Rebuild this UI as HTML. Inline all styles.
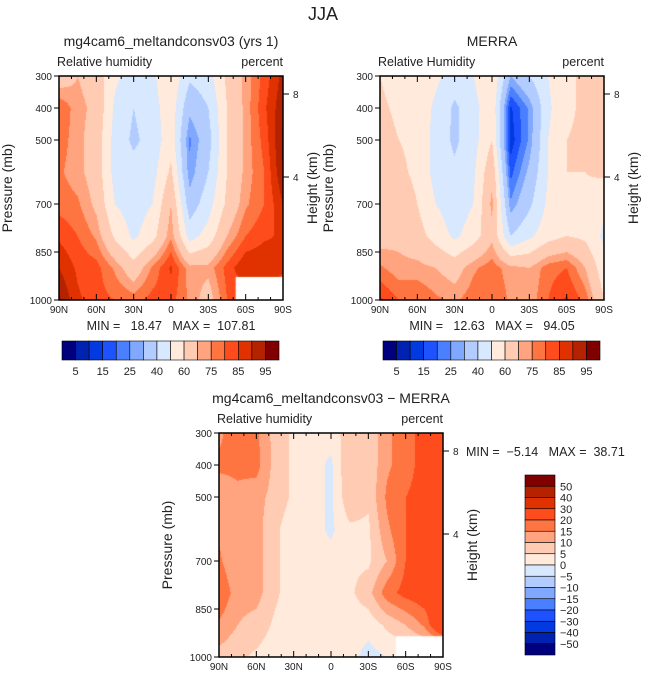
<!DOCTYPE html>
<html><head><meta charset="utf-8">
<style>
body{margin:0;background:#fff;}
#wrap{position:relative;width:647px;height:682px;overflow:hidden;font-family:"Liberation Sans",sans-serif;}
canvas{position:absolute;}
svg{position:absolute;left:0;top:0;}
svg text{font-family:"Liberation Sans",sans-serif;fill:#222;white-space:pre;}
</style></head><body>
<div id="wrap">
<canvas id="c1" width="224" height="224" style="left:59px;top:76px"></canvas>
<canvas id="c2" width="224" height="224" style="left:380px;top:76px"></canvas>
<canvas id="c3" width="224" height="224" style="left:219px;top:433px"></canvas>
<svg id="s" width="647" height="682"></svg>
</div>
<script>
const lats=[90,75,60,45,30,15,0,-15,-30,-45,-60,-75,-90];
const pres=[300,400,500,600,700,800,900,1000];
const latLabels=["90N","60N","30N","0","30S","60S","90S"];
const presTicks=[300,400,500,700,850,1000];
const rhLevels=[5,10,15,20,25,30,40,50,60,70,75,80,85,90,95];
const rhLabels=["5","15","25","40","60","75","85","95"];
const diffLevels=[-50,-40,-30,-20,-15,-10,-5,0,5,10,15,20,30,40,50];
const diffLabels=["50","40","30","20","15","10","5","0","\u22125","\u221210","\u221215","\u221220","\u221230","\u221240","\u221250"];
const colors=["#00007f","#0022b0","#003ae0","#1e52ff","#4a80ff","#80a8ff","#b2ccff","#d8e8ff","#ffeadb","#ffcbb2","#ffa47f","#ff7542","#ff4c1c","#e03200","#b52200","#800000"];
const model=[
[64,70,66,52,46,48,58,42,46,62,72,82,92],
[80,72,68,48,40,46,56,32,40,60,72,84,94],
[78,72,66,46,38,44,56,24,36,60,72,82,96],
[76,72,66,46,44,46,62,26,40,60,72,80,95],
[78,76,68,50,45,50,70,34,46,62,74,80,90],
[84,80,74,58,48,56,74,46,54,70,80,84,86],
[90,84,82,74,64,76,86,72,72,82,90,90,86],
[96,86,82,80,78,82,82,74,66,80,80,80,80]];
const merra=[
[60,55,55,52,46,50,60,30,40,50,58,62,66],
[62,58,56,48,38,46,58,14,26,48,58,62,70],
[64,60,58,46,38,46,60,12,26,50,60,62,70],
[64,62,58,46,42,48,68,18,32,50,60,60,62],
[64,66,60,50,44,50,72,26,38,52,58,58,52],
[66,68,64,56,48,55,68,40,48,56,60,58,48],
[76,72,72,70,66,74,78,72,70,78,80,70,54],
[86,80,80,76,74,78,80,74,72,80,86,78,60]];
const diff=[
[14,18,16,8,4,2,2,8,6,14,18,22,24],
[16,16,17,8,4,2,-1,10,6,14,18,22,24],
[12,14,12,8,4,2,-1,9,6,16,20,22,24],
[14,12,12,6,2,2,-1,4,4,14,20,22,26],
[16,10,12,6,2,2,2,4,4,10,20,22,26],
[20,12,12,6,2,2,2,4,8,18,22,24,26],
[14,10,8,4,2,2,4,2,2,6,10,16,30],
[8,6,4,2,2,2,2,2,-2,0,0,0,0]];
const W=224,H=224;
function xOf(lat){return (90-lat)/180*W;}
function yOf(p){return (p-300)/700*H;}
function sample(g,lat,p){
  let fx=(90-lat)/15, fy=(p-300)/100;
  let i=Math.min(Math.floor(fx),11), j=Math.min(Math.floor(fy),6);
  let tx=fx-i, ty=fy-j;
  let a=g[j][i],b=g[j][i+1],c=g[j+1][i],d=g[j+1][i+1];
  return (a*(1-tx)+b*tx)*(1-ty)+(c*(1-tx)+d*tx)*ty;
}
function draw(id,g,levels,mask){
  const ctx=document.getElementById(id).getContext('2d');
  for(let py=0;py<H;py++){for(let px=0;px<W;px++){
    let lat=90-(px+0.5)/W*180, p=300+(py+0.5)/H*700;
    let v=sample(g,lat,p); let k=0; while(k<levels.length&&v>=levels[k])k++;
    ctx.fillStyle=colors[k]; ctx.fillRect(px,py,1,1);}}
  ctx.fillStyle="#fff";
  ctx.fillRect(xOf(mask[0]),yOf(mask[1]),W,H);
}
draw('c1',model,rhLevels,[-52,928]);
draw('c2',merra,rhLevels,[-95,1100]);
draw('c3',diff,diffLevels,[-52,935]);
const NS="http://www.w3.org/2000/svg",S=document.getElementById('s');
function el(t,a,txt){const e=document.createElementNS(NS,t);for(const k in a)e.setAttribute(k,a[k]);if(txt!==undefined)e.textContent=txt;S.appendChild(e);return e;}
function panel(x0,y0,title,sub,name){
  let e;
  e=el('rect',{x:x0,y:y0,width:W,height:H,fill:'none',stroke:'#000','stroke-width':1.5});
  
  
  for(let lat=90;lat>=-90;lat-=10){let x=x0+xOf(lat),big=lat%30==0?6:3;
    el('line',{x1:x,x2:x,y1:y0+H,y2:y0+H-big,stroke:'#000'});
    el('line',{x1:x,x2:x,y1:y0,y2:y0+big,stroke:'#000'});}
  latLabels.forEach((l,i)=>{e=el('text',{x:x0+i*W/6,y:y0+H+13,'font-size':10,'text-anchor':'middle'},l);
    
    });
  presTicks.forEach(p=>{let y=y0+yOf(p);el('line',{x1:x0,x2:x0-5,y1:y,y2:y,stroke:'#000'});
    e=el('text',{x:x0-7,y:y+4,'font-size':10,'text-anchor':'end'},p);
    
    });
  [[8,18],[4,101]].forEach(h=>{el('line',{x1:x0+W,x2:x0+W+6,y1:y0+h[1],y2:y0+h[1],stroke:'#000'});
    e=el('text',{x:x0+W+10,y:y0+h[1]+4,'font-size':10},h[0]);
    
    });
  e=el('text',{x:x0+W/2,y:y0-30,'font-size':14,'text-anchor':'middle',fill:'#333'},title);
  
  
  e=el('text',{x:x0-2,y:y0-10,'font-size':12.5},sub);
  
  
  e=el('text',{x:x0+W,y:y0-10,'font-size':12.5,'text-anchor':'end'},'percent');
  
  
  e=el('text',{x:0,y:0,'font-size':14,'text-anchor':'middle',fill:'#555',transform:`translate(${x0-47},${y0+H/2}) rotate(-90)`},'Pressure (mb)');
  
  
  e=el('text',{x:0,y:0,'font-size':14,'text-anchor':'middle',fill:'#555',transform:`translate(${x0+W+34},${y0+H/2}) rotate(-90)`},'Height (km)');
  
  
}
panel(59,76,'mg4cam6_meltandconsv03 (yrs 1)','Relative humidity','model-panel');
panel(380,76,'MERRA','Relative Humidity','merra-panel');
panel(219,433,'mg4cam6_meltandconsv03 \u2212 MERRA','Relative humidity','diff-panel');
let t=el('text',{x:323,y:20,'font-size':18,'text-anchor':'middle',fill:'#444'},'JJA');


t=el('text',{x:171,y:330,'font-size':12.5,'text-anchor':'middle'},'MIN =   18.47   MAX =  107.81');


t=el('text',{x:492,y:330,'font-size':12.5,'text-anchor':'middle'},'MIN =   12.63   MAX =   94.05');


t=el('text',{x:466,y:456,'font-size':12.5},'MIN =  \u22125.14   MAX =  38.71');


function hbar(x0){const bw=(279-62)/16;
  colors.forEach((c,i)=>{let r=el('rect',{x:x0+i*bw,y:341,width:bw,height:19,fill:c,stroke:'#000','stroke-width':0.6});
    
    });
  rhLabels.forEach((l,i)=>{let e=el('text',{x:x0+(2*i+1)*bw,y:375,'font-size':11,'text-anchor':'middle'},l);
    
    });}
hbar(62);hbar(383);
const vb=180/16;
colors.slice().reverse().forEach((c,i)=>{let r=el('rect',{x:525,y:475+i*vb,width:30,height:vb,fill:c,stroke:'#000','stroke-width':0.6});
  
  });
diffLabels.forEach((l,i)=>{let e=el('text',{x:560,y:475+(i+1)*vb+4,'font-size':11},l);
  
  });
</script>
</body></html>
